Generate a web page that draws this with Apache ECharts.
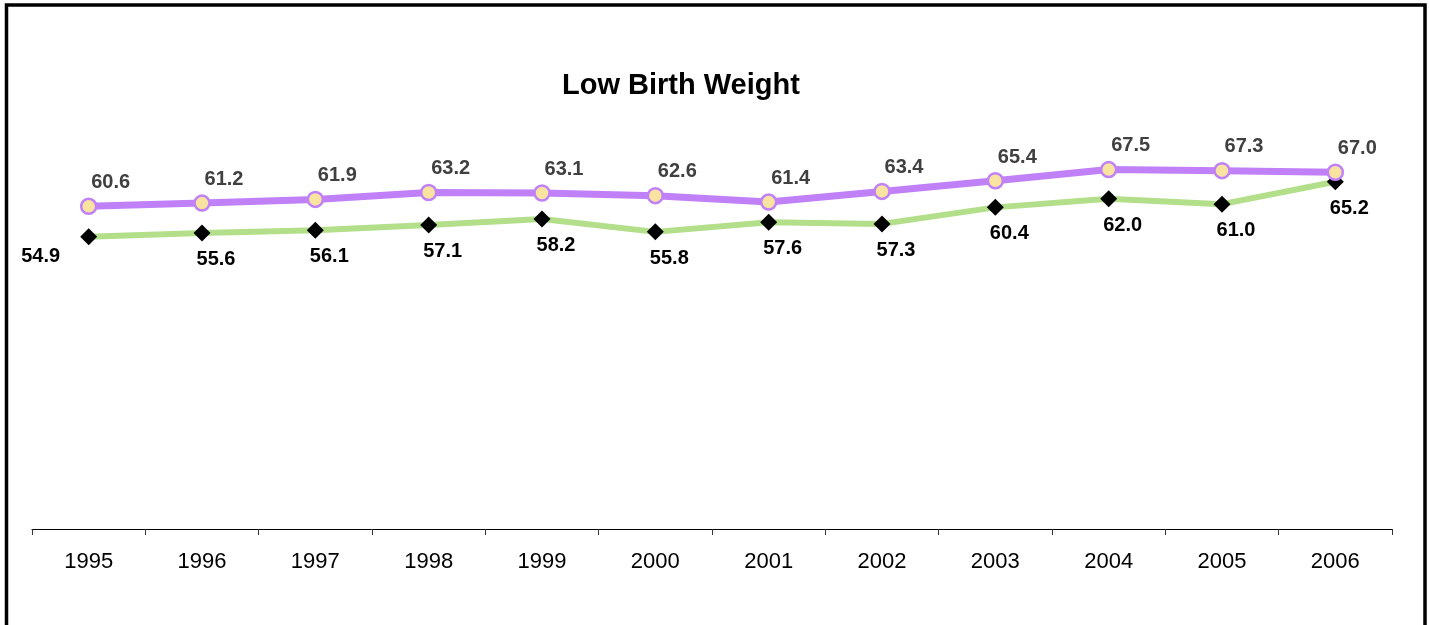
<!DOCTYPE html>
<html>
<head>
<meta charset="utf-8">
<script src="https://cdn.jsdelivr.net/npm/echarts@6/dist/echarts.min.js"></script>
<style>
  html, body { margin: 0; padding: 0; background: #fff; }
  #main { width: 1430px; height: 625px; }
</style>
</head>
<body>
<div id="main"></div>
<script>
const years = ['1995', '1996', '1997', '1998', '1999', '2000', '2001', '2002', '2003', '2004', '2005', '2006'];
const upperValues = [60.6, 61.2, 61.9, 63.2, 63.1, 62.6, 61.4, 63.4, 65.4, 67.5, 67.3, 67.0];
const lowerValues = [54.9, 55.6, 56.1, 57.1, 58.2, 55.8, 57.6, 57.3, 60.4, 62.0, 61.0, 65.2];

const font = '"Liberation Sans", Arial, sans-serif';

const chart = echarts.init(document.getElementById('main'));

// first green label sits to the left of its point, like in the original
const lowerData = lowerValues.map((v, i) => i === 0
  ? { value: v, label: { position: 'left', offset: [-15, 20] } }
  : v);

chart.setOption({
  backgroundColor: '#fff',
  animation: false,
  title: {
    text: 'Low Birth Weight',
    left: 557,
    top: 66,
    textStyle: { fontFamily: font, fontSize: 29, fontWeight: 'bold', color: '#000' }
  },
  grid: { left: 32, right: 38, top: 103, bottom: 96 },
  xAxis: {
    type: 'category',
    data: years,
    boundaryGap: true,
    axisLine: { lineStyle: { color: '#000', width: 1 } },
    axisTick: { show: true, length: 6, lineStyle: { color: '#333' } },
    axisLabel: { margin: 22, fontFamily: font, fontSize: 22, color: '#000' }
  },
  yAxis: {
    type: 'value',
    min: 0,
    max: 80,
    show: false,
    splitLine: { show: false }
  },
  series: [
    {
      name: 'upper',
      type: 'line',
      data: upperValues,
      z: 3,
      symbol: 'circle',
      symbolSize: 15,
      lineStyle: { color: '#c080f8', width: 7 },
      itemStyle: { color: '#f9e3a0', borderColor: '#c080f8', borderWidth: 2.5 },
      label: {
        show: true,
        position: 'top',
        offset: [22, 0],
        formatter: p => p.value.toFixed(1),
        fontFamily: font, fontSize: 20, fontWeight: 'bold', color: '#404040'
      }
    },
    {
      name: 'lower',
      type: 'line',
      data: lowerData,
      z: 2,
      symbol: 'diamond',
      symbolSize: 17,
      lineStyle: { color: '#b3df8b', width: 6 },
      itemStyle: { color: '#000' },
      label: {
        show: true,
        position: 'bottom',
        offset: [14, 3],
        formatter: p => p.value.toFixed(1),
        fontFamily: font, fontSize: 20, fontWeight: 'bold', color: '#000'
      }
    }
  ],
  graphic: [
    {
      type: 'rect',
      shape: { x: 6.5, y: 5, width: 1418.5, height: 700 },
      style: { fill: 'none', stroke: '#000', lineWidth: 3.5 },
      silent: true,
      z: 100
    }
  ]
});
</script>
</body>
</html>
